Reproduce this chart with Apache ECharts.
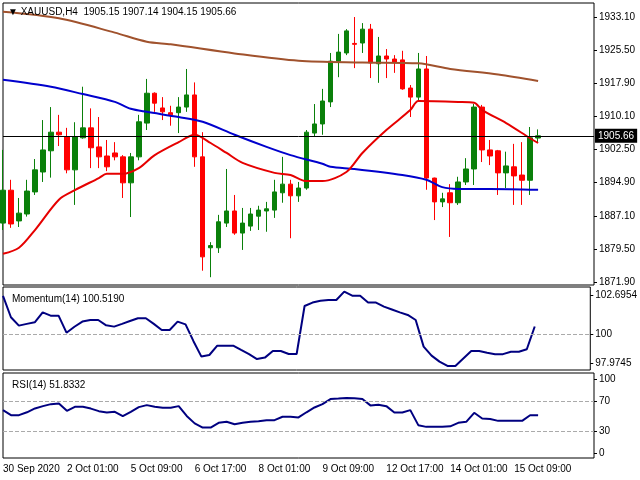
<!DOCTYPE html>
<html>
<head>
<meta charset="utf-8">
<script src="https://cdn.jsdelivr.net/npm/echarts@6/dist/echarts.min.js"></script>
<style>html,body{margin:0;padding:0;background:#fff}#main{width:640px;height:480px}</style>
</head>
<body>
<div id="main"></div>
<script>
var myChart = echarts.init(document.getElementById('main'));

// 数据
var opens = [1885.5,1893.1,1886,1887.6,1892.7,1897.3,1902.2,1906.5,1905.4,1897.8,1905.2,1907.5,1903.1,1901,1901.7,1900.8,1894.8,1900.8,1908.6,1915.5,1912.1,1911,1911,1912.3,1915.1,1900.8,1879.8,1879.8,1885.5,1888.3,1883.2,1884.8,1887.1,1888.3,1888.5,1892.5,1894.5,1891.8,1893.6,1906.3,1908.4,1913.5,1922.9,1924.8,1927,1927.1,1930.3,1922.3,1924.1,1923.4,1923.2,1916.7,1914.6,1921.1,1895.9,1890.4,1892.5,1890.2,1895,1898,1912.3,1902.4,1902.2,1897.1,1898.5,1896.6,1895.4,1905.15];
var closes = [1893.1,1885.3,1887.8,1892.9,1897.8,1902.4,1906.5,1905.9,1897.8,1905.4,1907.5,1902.9,1900.8,1898.5,1900.8,1894.8,1900.8,1908.9,1915.5,1913.2,1911.2,1910.5,1912.3,1915.1,1900.8,1877.7,1880.3,1885.8,1888.3,1883.2,1885.5,1887.6,1888.5,1888.8,1892.7,1894.5,1891.8,1893.6,1906.5,1908.4,1913.7,1922.9,1925,1929.9,1926.8,1930.3,1922.5,1924.1,1923.4,1922.7,1916.5,1914.6,1921.1,1895.9,1890.4,1891.1,1890.2,1895,1898,1912.3,1902.4,1901,1897.1,1898.7,1896.4,1895.4,1905.2,1905.66];
var lows = [1883.9,1884.4,1884.6,1887,1892,1895,1896,1903.3,1897,1889.7,1905,1898.2,1898.2,1897.5,1900,1891.3,1886.9,1900,1907,1911.2,1909.3,1908,1906.3,1911.2,1898.5,1874.5,1873,1878.6,1884.6,1882.8,1879.3,1883.7,1883.9,1883.5,1886.7,1890.2,1882,1890.4,1893.2,1905.4,1905.9,1912.3,1919.2,1924.3,1921.3,1924.8,1919,1917.9,1919,1920.2,1916.3,1910,1913.9,1893.2,1886.2,1889.2,1882.3,1889.7,1894.3,1894.3,1899.6,1898.9,1892,1893.6,1889.7,1889.7,1892,1904.15];
var highs = [1902.4,1895.5,1891.3,1895.5,1900.3,1909.3,1912.3,1910.5,1907.5,1908.8,1917,1912,1910,1904.7,1904.2,1901.2,1901.7,1910.5,1918.8,1915.7,1914.6,1912.6,1914.6,1921.1,1918,1906.5,1881.1,1887.4,1898,1892,1889,1889,1889.5,1890.4,1895.5,1900.8,1895.5,1895,1907,1913,1916.5,1924.8,1929.2,1930.3,1933.1,1931.7,1931.5,1928.5,1925.7,1924.3,1925.3,1917.4,1924.8,1924.1,1896,1892.5,1894.5,1896.2,1900.5,1913,1912.8,1904.7,1902.4,1902,1903.8,1904.2,1907.7,1907.14];

// 均线 [序号, 值]
var maSlow = [[0,1934.3],[7,1932.8],[14,1929.5],[18,1927.4],[21,1926.8],[29,1924.7],[37,1923],[45,1922.6],[52,1922.4],[56,1921.1],[62,1919.8],[67,1918.3]];
var maMid = [[0,1918.6],[6,1917],[10,1915.3],[14,1913.5],[16,1911.9],[18,1911.2],[22,1910],[25,1908.9],[29,1905.9],[33,1903.1],[36,1901.2],[40,1899.2],[41,1898.5],[44,1898],[50,1896.6],[53,1895.5],[55,1893.8],[57,1893.4],[61,1893.4],[67,1893.2]];
var maFast = [[0,1878.4],[2,1879.8],[4,1883.9],[7,1890.9],[9,1893.1],[12,1895.9],[13,1896.9],[15,1896.9],[17,1898.2],[19,1901.2],[22,1904.2],[24,1905.9],[26,1904],[28,1901.7],[30,1899.4],[34,1897.1],[36,1896.6],[38,1895.2],[40,1895.2],[43,1897.3],[45,1901.7],[48,1907],[51,1911.6],[52,1913.7],[57,1913.5],[59,1913.3],[60,1911.6],[63,1908.6],[66,1905.1],[67,1904]];

var momentum = [102.64,101.16,100.58,100.7,100.81,101.5,101.27,101.27,100.09,100.5,100.86,100.97,100.97,100.6,100.51,100.7,100.9,101.09,101.09,100.7,100.28,100.28,100.86,100.67,99.5,98.43,98.54,99.19,99.19,99.19,98.89,98.6,98.26,98.36,98.82,98.82,98.61,98.61,101.94,102.18,102.3,102.36,102.36,102.94,102.66,102.66,102.18,102.18,101.9,101.7,101.5,101.32,100.97,99.12,98.5,98.08,97.78,97.78,98.3,98.82,98.82,98.7,98.6,98.6,98.77,98.77,98.94,100.52];
var rsi = [57.9,51.1,51.1,55,60.2,63.3,66,67,57,62.4,62.4,60,56.5,54.8,55.7,49.8,55.7,62,64.7,62.5,61.1,61.1,63.3,50,40,34.4,34.4,40.7,42.1,38.9,40.7,42.1,43,44.3,44.3,48.9,48.9,48,55,61.5,66.1,72.9,73.5,74.2,74,72.9,64.3,65.2,63.3,54.8,54.8,57.9,37.6,35.3,35.3,35.3,36,40.7,42.1,54.3,46.6,46,43.4,43.4,43.4,43.4,51,51];

var priceTicks = [1871.9,1879.5,1887.1,1894.9,1902.5,1910.1,1917.9,1925.5,1933.1];
var momTicks = [97.9745,100,102.6954];
var rsiTicks = [0,30,70,100];
var timeTicks = ['30 Sep 2020','2 Oct 01:00','5 Oct 09:00','6 Oct 17:00','8 Oct 01:00','9 Oct 09:00','12 Oct 17:00','14 Oct 01:00','15 Oct 09:00'];
var lastPrice = 1905.66;

var slots = [];
for (var i = 0; i < 75; i++) slots.push(i);
var candles = opens.map(function (o, i) { return [o, closes[i], lows[i], highs[i]]; });

var font = 'Liberation Sans';
function xAx(idx, show) {
  return {
    type: 'category', gridIndex: idx, data: slots, boundaryGap: false,
    axisLine: { show: false }, axisTick: { show: false }, splitLine: { show: false },
    axisLabel: {
      show: show, interval: 7, align: 'left', margin: 6, color: '#000', fontSize: 10, fontFamily: font,
      formatter: function (v) { return timeTicks[v / 8] || ''; }
    }
  };
}
function yAx(idx, min, max, ticks, fmt) {
  return {
    type: 'value', gridIndex: idx, position: 'right', min: min, max: max, scale: true,
    splitLine: { show: false }, axisLine: { show: false },
    axisTick: { show: true, length: 3, customValues: ticks, lineStyle: { color: '#000' } },
    axisLabel: { customValues: ticks, color: '#000', fontSize: 10, fontFamily: font, margin: 5, formatter: fmt }
  };
}

var option = {
  backgroundColor: '#fff',
  animation: false,
  title: [
    { text: '\u25BC XAUUSD,H4  1905.15 1907.14 1904.15 1905.66', left: 3, top: 2, textStyle: { fontSize: 10, fontWeight: 'normal', color: '#000', fontFamily: font } },
    { text: 'Momentum(14) 100.5190', left: 7, top: 289, textStyle: { fontSize: 10, fontWeight: 'normal', color: '#000', fontFamily: font } },
    { text: 'RSI(14) 51.8332', left: 7, top: 375, textStyle: { fontSize: 10, fontWeight: 'normal', color: '#000', fontFamily: font } }
  ],
  grid: [
    { left: 3, top: 3, width: 591, height: 282, show: true, borderColor: '#000', borderWidth: 1 },
    { left: 3, top: 287, width: 591, height: 83, show: true, borderColor: '#000', borderWidth: 1 },
    { left: 3, top: 373, width: 591, height: 85, show: true, borderColor: '#000', borderWidth: 1 }
  ],
  xAxis: [xAx(0, false), xAx(1, false), xAx(2, true)],
  yAxis: [
    yAx(0, 1871.2, 1936.34, priceTicks, function (v) { return v.toFixed(2); }),
    yAx(1, 97.5, 103.26, momTicks, function (v) { return v === 100 ? '100' : v.toFixed(4); }),
    yAx(2, -6.8, 108.1, rsiTicks, function (v) { return String(v); })
  ],
  series: [
    {
      type: 'candlestick', xAxisIndex: 0, yAxisIndex: 0, data: candles, barWidth: 5,
      itemStyle: { color: '#0a800a', color0: '#ff0000', borderColor: '#0a800a', borderColor0: '#ff0000', borderWidth: 1 },
      markLine: {
        symbol: 'none', silent: true,
        lineStyle: { color: '#000', width: 1, type: 'solid' },
        label: { position: 'end', distance: 1, color: '#fff', backgroundColor: '#000', padding: [2, 3], fontSize: 10, fontFamily: font, formatter: lastPrice.toFixed(2) },
        data: [{ yAxis: lastPrice }]
      }
    },
    { type: 'line', xAxisIndex: 0, yAxisIndex: 0, data: maSlow, smooth: 0.3, showSymbol: false, lineStyle: { color: '#a0522d', width: 2 } },
    { type: 'line', xAxisIndex: 0, yAxisIndex: 0, data: maMid, smooth: 0.3, showSymbol: false, lineStyle: { color: '#0000cd', width: 2 } },
    { type: 'line', xAxisIndex: 0, yAxisIndex: 0, data: maFast, smooth: 0.3, showSymbol: false, lineStyle: { color: '#e60000', width: 2 } },
    {
      type: 'line', xAxisIndex: 1, yAxisIndex: 1, data: momentum, showSymbol: false, lineStyle: { color: '#000080', width: 2 },
      markLine: { symbol: 'none', silent: true, label: { show: false }, lineStyle: { color: '#aaa', type: 'dashed', width: 1 }, data: [{ yAxis: 100 }] }
    },
    {
      type: 'line', xAxisIndex: 2, yAxisIndex: 2, data: rsi, showSymbol: false, lineStyle: { color: '#000080', width: 2 },
      markLine: { symbol: 'none', silent: true, label: { show: false }, lineStyle: { color: '#aaa', type: 'dashed', width: 1 }, data: [{ yAxis: 70 }, { yAxis: 30 }] }
    }
  ]
};

myChart.setOption(option);
</script>
</body>
</html>
